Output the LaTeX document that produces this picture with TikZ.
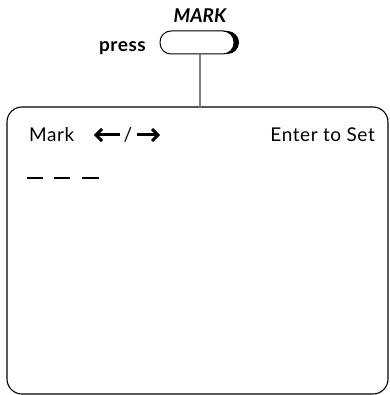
\documentclass[tikz,border=0pt]{standalone}
\usepackage{fontspec}
\setmainfont{Lato}
\begin{document}
\begin{tikzpicture}[x=1pt,y=-1pt,
  lbl/.style={inner sep=0pt, anchor=base west, font=\fontsize{19}{22}\selectfont\addfontfeature{LetterSpace=3}},
  screen/.style={draw=black, line width=1.1pt, rounded corners=15pt},
  conn/.style={draw=black!50, line width=1.6pt},
  dashbar/.style={fill=black},
  heavyarrow/.style={line width=3pt, line join=miter, line cap=butt}]
\useasboundingbox (0,0) rectangle (389,395);
% button shadow and body
\fill[black, rounded corners=11.5pt] (165,31) rectangle (239,54);
\draw[fill=white, line width=1pt, rounded corners=11pt] (160,31) rectangle (234,54);
\coordinate (btn) at (200,54);
\node[inner sep=0pt, anchor=base, font=\fontsize{19}{22}\selectfont\itshape\bfseries] (mark) at (200,23) {MARK};
\node[inner sep=0pt, anchor=base east, font=\fontsize{19}{22}\selectfont\bfseries\addfontfeature{LetterSpace=3}] (press) at (146,52) {press};
% screen
\draw[screen] (7,107) rectangle (388,394);
\coordinate (scrtop) at (200,107);
\draw[conn] (btn) -- (scrtop);
\node[lbl] (marklbl) at (29,142) {Mark};
% arrows
\draw[heavyarrow] (96,135) -- (120,135);
\draw[heavyarrow] (102,129) -- (96,135) -- (102,141);
\node[inner sep=0pt, anchor=base, font=\fontsize{19}{22}\selectfont] (slash) at (128,142) {/};
\draw[heavyarrow] (137,135) -- (158,135);
\draw[heavyarrow] (152,129) -- (158,135) -- (152,141);
\node[lbl, anchor=base east] (enter) at (375,142) {Enter to Set};
\foreach \a/\b in {27/43,54/70,82/99} \fill[dashbar] (\a,176.8) rectangle (\b,179.2);
\end{tikzpicture}
\end{document}
